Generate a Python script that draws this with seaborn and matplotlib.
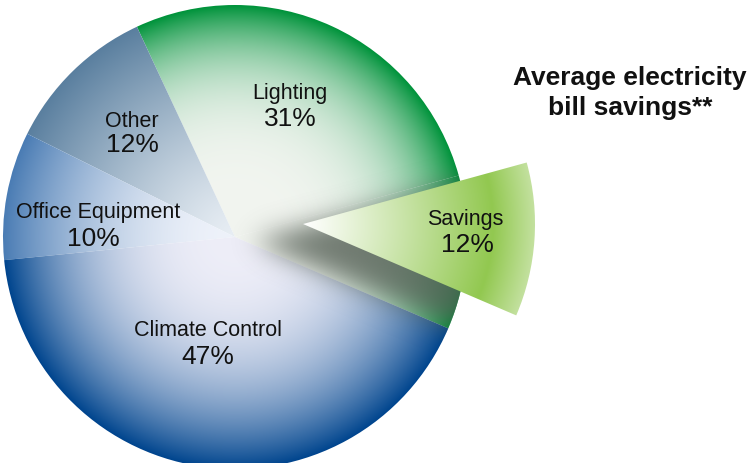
import numpy as np
import matplotlib.pyplot as plt
import seaborn as sns
from matplotlib.colors import to_rgb
from matplotlib.patches import Circle

sns.set_theme(style="white")
plt.rcParams["font.family"] = ["Liberation Sans", "DejaVu Sans"]

# slices, counter-clockwise starting from the savings slice
labels = ["Savings", "Lighting", "Other", "Office Equipment", "Climate Control"]
shares = [12, 31, 12, 10, 47]
pct_labels = ["12%", "31%", "12%", "10%", "47%"]
outer_colors = ["#92c850", "#00933b", "#5a7f9f", "#4a7cb4", "#00458e"]
inner_colors = ["#ffffff", "#f2f5f0", "#e8eef4", "#eef2fa", "#eeeef8"]
falloff = [1.1, 4.0, 1.3, 2.0, 2.5]
title = "Average electricity\nbill savings**"

W, H = 749, 464
cx, cy, R = 235, 238, 232   # pie centre / radius in pixels
xlim = (-cx / R, (W - cx) / R)
ylim = ((cy - H) / R, cy / R)

fig = plt.figure(figsize=(W / 100, H / 100), dpi=100)
ax = fig.add_axes([0, 0, 1, 1])

xs = np.linspace(*xlim, W)
ys = np.linspace(*ylim, H)
X, Y = np.meshgrid(xs, ys)
extent = [*xlim, *ylim]


def gradient(x0, y0, inner, outer, p, rim=0.0):
    d = np.hypot(X - x0, Y - y0)
    t = np.clip(d, 0, 1) ** p
    if rim:
        # lighter soft rim on the outer arc
        t = np.clip(d / 0.82, 0, 1) ** p * (1 - rim * np.clip((d - 0.82) / 0.18, 0, 1))
    a, b = np.array(to_rgb(inner)), np.array(to_rgb(outer))
    return a + (b - a) * t[..., None]


start = -23.2
wedges, _ = ax.pie(shares, startangle=start, radius=1, center=(0, 0),
                   wedgeprops=dict(linewidth=0))
for i, w in enumerate(wedges):
    j = 1 if i == 0 else i  # hole left by the savings slice shows lighting
    w.set_facecolor("none")
    img = ax.imshow(gradient(0, 0, inner_colors[j], outer_colors[j], falloff[j]),
                    extent=extent, origin="lower", zorder=1, interpolation="bilinear")
    img.set_clip_path(w)

# soft shadow under the pulled-out slice
th1, th2 = np.radians(wedges[0].theta1), np.radians(wedges[0].theta2)
sx, sy = (253 - cx) / R, (cy - 242) / R
ang = np.mod(np.arctan2(Y - sy, X - sx) - th1, 2 * np.pi)
mask = ((ang <= th2 - th1) & (np.hypot(X - sx, Y - sy) <= 1)).astype(float)
k = np.exp(-np.arange(-40, 41) ** 2 / (2 * 13.0 ** 2))
k /= k.sum()
mask = np.apply_along_axis(lambda m: np.convolve(m, k, mode="same"), 1, mask)
mask = np.apply_along_axis(lambda m: np.convolve(m, k, mode="same"), 0, mask)
shadow = np.zeros((H, W, 4))
shadow[..., :3] = to_rgb("#545e54")
shadow[..., 3] = mask * 0.8
simg = ax.imshow(shadow, extent=extent, origin="lower", zorder=2, interpolation="bilinear")
simg.set_clip_path(Circle((0, 0), 1, transform=ax.transData))

# pulled-out savings slice
off = ((303 - cx) / R, (cy - 225) / R)
ex, _ = ax.pie(shares, startangle=start, radius=1, center=off,
               wedgeprops=dict(linewidth=0))
for w in ex[1:]:
    w.set_visible(False)
ex[0].set_facecolor("none")
img = ax.imshow(gradient(*off, inner_colors[0], outer_colors[0], falloff[0], rim=0.45),
                extent=extent, origin="lower", zorder=3, interpolation="bilinear")
img.set_clip_path(ex[0])

# labels (name line, percent line)
name_pos = [(0.991, 0.078), (0.237, 0.625), (-0.444, 0.504), (-0.59, 0.112), (-0.116, -0.397)]
pct_pos = [(1.0, -0.03), (0.237, 0.513), (-0.444, 0.401), (-0.612, -0.004), (-0.116, -0.513)]
for name, pct, (nx, ny), (px, py) in zip(labels, pct_labels, name_pos, pct_pos):
    ax.text(nx, ny, name, ha="center", va="center", fontsize=15.5, color="#111111", zorder=5)
    ax.text(px, py, pct, ha="center", va="center", fontsize=19, color="#111111", zorder=5)

ax.text(1.703, 0.625, title, ha="center", va="center", fontsize=19,
        fontweight="bold", color="#111111", linespacing=1.3, zorder=5)

ax.set_xlim(*xlim)
ax.set_ylim(*ylim)
ax.set_aspect("equal")
ax.axis("off")

fig.savefig("out.png", dpi=100)
